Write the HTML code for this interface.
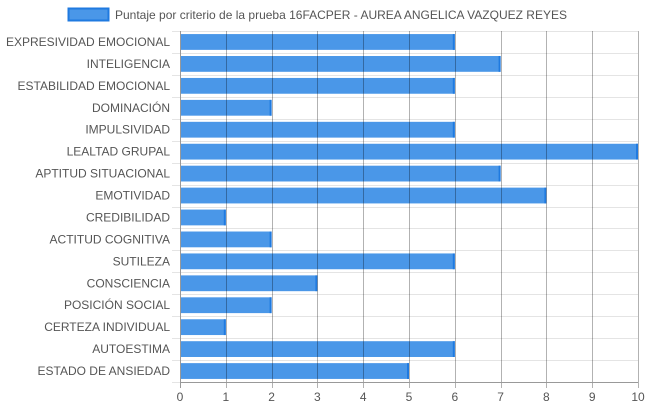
<!DOCTYPE html>
<html><head><meta charset="utf-8"><style>
html,body{margin:0;padding:0;background:#fff;width:648px;height:410px;overflow:hidden}
text{font-family:"Liberation Sans",sans-serif;fill:#555;font-size:12px}
</style></head><body>
<svg id="chart" width="648" height="410" xmlns="http://www.w3.org/2000/svg"></svg>
<script>
const categories=["EXPRESIVIDAD EMOCIONAL","INTELIGENCIA","ESTABILIDAD EMOCIONAL","DOMINACIÓN","IMPULSIVIDAD","LEALTAD GRUPAL","APTITUD SITUACIONAL","EMOTIVIDAD","CREDIBILIDAD","ACTITUD COGNITIVA","SUTILEZA","CONSCIENCIA","POSICIÓN SOCIAL","CERTEZA INDIVIDUAL","AUTOESTIMA","ESTADO DE ANSIEDAD"];
const values=[6,7,6,2,6,10,7,8,1,2,6,3,2,1,6,5];
const xTicks=[0,1,2,3,4,5,6,7,8,9,10];
const seriesLabel="Puntaje por criterio de la prueba 16FACPER - AUREA ANGELICA VAZQUEZ REYES";
const svg=document.getElementById('chart');
const NS="http://www.w3.org/2000/svg";
const L=180,R=638,T=31,B=382,xMax=10;
const xs=v=>L+(R-L)*v/xMax;
const band=(B-T)/categories.length;
const yc=i=>T+band*(i+0.5);
function mk(tag,attrs,parent){const e=document.createElementNS(NS,tag);for(const k in attrs)e.setAttribute(k,attrs[k]);(parent||svg).appendChild(e);return e;}
// legend
let lg=mk('rect',{x:68.5,y:8.5,width:40,height:12,fill:'#4a97e8',stroke:'#1f7ae0','stroke-width':2});


let lt=mk('text',{x:115,y:19});lt.textContent=seriesLabel;


// horizontal grid
for(let i=0;i<=categories.length;i++){const y=Math.round(T+band*i)+0.5;
 let g=mk('line',{x1:L-8,x2:R,y1:y,y2:y,stroke:'#e4e4e4','stroke-width':1});
 
 }
// bars
const bh=band*0.72;
values.forEach((v,i)=>{
 let r=mk('rect',{x:xs(0),y:yc(i)-bh/2,width:xs(v)-xs(0),height:bh,fill:'#4a97e8'});
 
 
 let br=mk('line',{x1:xs(v)-1,x2:xs(v)-1,y1:yc(i)-bh/2,y2:yc(i)+bh/2,stroke:'#1f7ae0','stroke-width':2});
 
 
 let t=mk('text',{x:170,y:yc(i)+4,'text-anchor':'end'});t.textContent=categories[i];
 
 
});
// vertical grid + ticks
xTicks.forEach(v=>{const x=Math.round(xs(v))+0.5;
 let g=mk('line',{x1:x,x2:x,y1:T,y2:B+6,stroke:v===0?'#999':'rgba(0,0,0,0.3)','stroke-width':1});
 
 
 let t=mk('text',{x:xs(v),y:401,'text-anchor':'middle'});t.textContent=v;
 
 
});
let ax=mk('line',{x1:L,x2:R,y1:B+0.5,y2:B+0.5,stroke:'#999'});


</script>
</body></html>
